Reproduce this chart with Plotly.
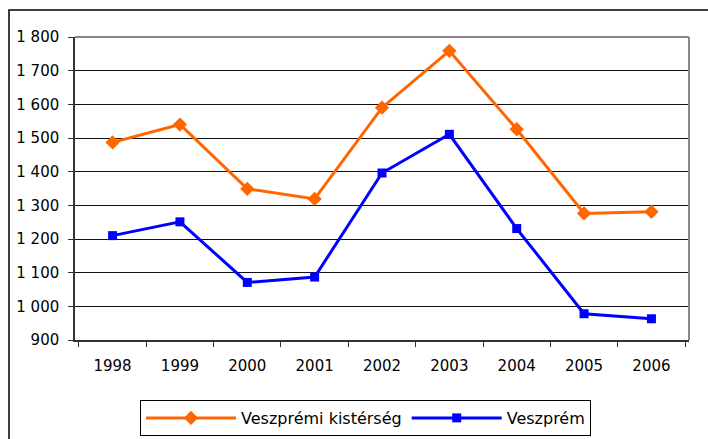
import plotly.graph_objects as go

years = ["1998", "1999", "2000", "2001", "2002", "2003", "2004", "2005", "2006"]
kisterseg = [1487, 1540, 1349, 1319, 1590, 1759, 1526, 1276, 1281]
veszprem = [1210, 1251, 1071, 1087, 1396, 1511, 1231, 978, 963]
name_kist = "Veszprémi kistérség"
name_vesz = "Veszprém"
y_ticks = [900, 1000, 1100, 1200, 1300, 1400, 1500, 1600, 1700, 1800]

FONT = "DejaVu Sans, Liberation Sans, Arial, sans-serif"

fig = go.Figure()
fig.add_trace(go.Scatter(
    x=years, y=kisterseg, name=name_kist, mode="lines+markers",
    line=dict(color="#FF6600", width=3),
    marker=dict(symbol="diamond", size=11, color="#FF6600"),
))
fig.add_trace(go.Scatter(
    x=years, y=veszprem, name=name_vesz, mode="lines+markers",
    line=dict(color="#0000FF", width=3),
    marker=dict(symbol="square", size=9, color="#0000FF"),
))

fig.update_layout(
    width=708, height=439,
    margin=dict(l=75, r=19, t=37, b=99),
    paper_bgcolor="white", plot_bgcolor="white",
    separators=", ",
    font=dict(family=FONT, size=15, color="black"),
    showlegend=True,
    legend=dict(
        orientation="h", xref="container", yref="container",
        x=140 / 708, xanchor="left", y=(439 - 400) / 439, yanchor="top",
        bordercolor="black", borderwidth=1, bgcolor="white",
        font=dict(family=FONT, size=16, color="black"),
        itemwidth=90, tracegroupgap=0,
    ),
    xaxis=dict(
        type="category", showgrid=False, showline=True, linecolor="#333333", linewidth=1.5,
        ticks="outside", ticklen=5, tickcolor="#333333", tickson="boundaries",
        ticklabelstandoff=11, tickfont=dict(size=15),
    ),
    yaxis=dict(
        range=[900, 1800], tickvals=y_ticks, tickformat=",d",
        showgrid=True, gridcolor="#111111", gridwidth=1,
        showline=True, linecolor="#333333", linewidth=1.5,
        ticks="outside", ticklen=5, tickcolor="#333333",
        ticklabelstandoff=6, tickfont=dict(size=15), zeroline=False,
    ),
    shapes=[
        dict(type="rect", xref="paper", yref="paper",
             x0=(9 - 75) / 614, x1=(712 - 75) / 614,
             y0=-(445 - 340) / 303, y1=1 + (37 - 10) / 303,
             line=dict(color="black", width=1.5), fillcolor="rgba(0,0,0,0)", layer="below"),
        dict(type="line", xref="paper", yref="paper", x0=0, x1=1, y0=1, y1=1,
             line=dict(color="#888888", width=2)),
        dict(type="line", xref="paper", yref="paper", x0=1, x1=1, y0=0, y1=1,
             line=dict(color="#888888", width=2)),
    ],
)

fig.write_html(
    "out.html",
    config={"displayModeBar": False},
    post_script="document.body.style.margin='0';document.body.style.overflow='hidden';",
)
